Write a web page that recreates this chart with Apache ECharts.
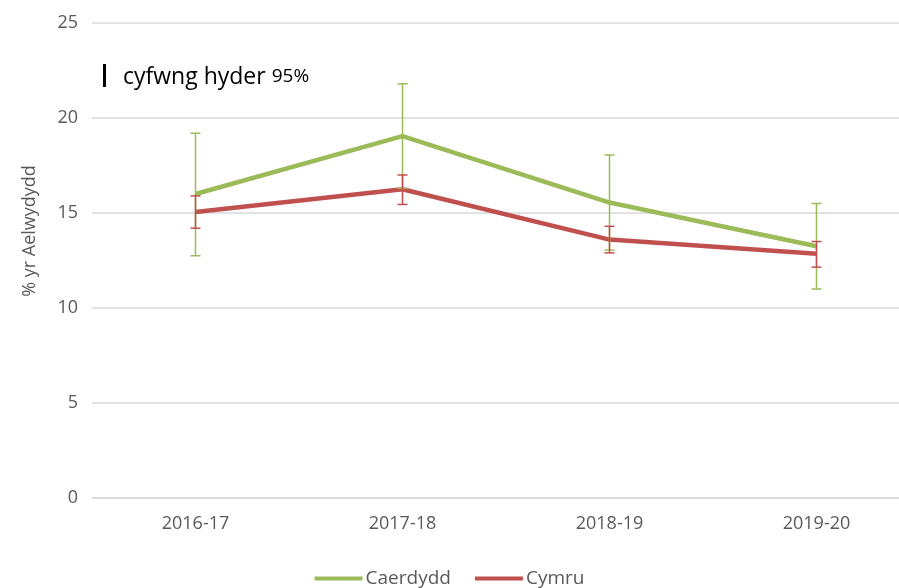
<!DOCTYPE html>
<html>
<head>
<meta charset="utf-8">
<script src="https://cdn.jsdelivr.net/npm/echarts@6/dist/echarts.min.js"></script>
<style>html,body{margin:0;padding:0;background:#fff}#c{width:899px;height:588px}</style>
</head>
<body>
<div id="c"></div>
<script>
const categories = ['2016-17', '2017-18', '2018-19', '2019-20'];
const caerdydd = [16.0, 19.05, 15.55, 13.25];
const caerdyddLow = [12.75, 16.3, 13.05, 11.0];
const caerdyddHigh = [19.2, 21.8, 18.05, 15.5];
const cymru = [15.05, 16.25, 13.6, 12.85];
const cymruLow = [14.2, 15.45, 12.9, 12.15];
const cymruHigh = [15.9, 17.0, 14.3, 13.5];
const yTicks = [0, 5, 10, 15, 20, 25];

const GREEN = '#9BBB59', RED = '#C0504D';
const FONT = "'Open Sans', 'Liberation Sans', sans-serif";

function errData(low, high) {
  return categories.map((c, i) => [i, low[i], high[i]]);
}
function errSeries(name, low, high, color) {
  return {
    type: 'custom',
    name: name + ' err',
    data: errData(low, high),
    z: 3,
    silent: true,
    renderItem: function (params, api) {
      const x = api.value(0);
      const lo = api.coord([x, api.value(1)]);
      const hi = api.coord([x, api.value(2)]);
      const w = 5;
      const st = { stroke: color, lineWidth: 1.5 };
      return {
        type: 'group',
        children: [
          { type: 'line', shape: { x1: lo[0], y1: lo[1], x2: hi[0], y2: hi[1] }, style: st },
          { type: 'line', shape: { x1: lo[0] - w, y1: lo[1], x2: lo[0] + w, y2: lo[1] }, style: st },
          { type: 'line', shape: { x1: hi[0] - w, y1: hi[1], x2: hi[0] + w, y2: hi[1] }, style: st }
        ]
      };
    }
  };
}

const chart = echarts.init(document.getElementById('c'));
chart.setOption({
  animation: false,
  backgroundColor: '#fff',
  grid: { left: 92, top: 23, width: 828, bottom: 90, containLabel: false, outerBoundsMode: 'none' },
  legend: {
    top: 564,
    left: 'center',
    itemWidth: 48,
    itemHeight: 4,
    itemGap: 24,
    icon: 'rect',
    textStyle: { color: '#595959', fontSize: 19, fontFamily: FONT, padding: [0, 0, 0, -2] },
    data: ['Caerdydd', 'Cymru']
  },
  xAxis: {
    type: 'category',
    data: categories,
    boundaryGap: true,
    axisLine: { lineStyle: { color: '#d9d9d9', width: 1.5 } },
    axisTick: { show: false },
    axisLabel: { color: '#595959', fontSize: 18, fontFamily: FONT, margin: 17 }
  },
  yAxis: {
    type: 'value',
    min: yTicks[0],
    max: yTicks[yTicks.length - 1],
    interval: 5,
    axisLine: { show: false },
    axisTick: { show: false },
    axisLabel: { color: '#595959', fontSize: 18, fontFamily: FONT, margin: 14 },
    splitLine: { lineStyle: { color: '#d9d9d9', width: 1.5 } }
  },
  graphic: [{
    type: 'text',
    x: 30,
    y: 231,
    rotation: Math.PI / 2,
    style: {
      text: '% yr Aelwydydd',
      fill: '#595959',
      fontSize: 18,
      fontFamily: FONT,
      align: 'center',
      verticalAlign: 'middle'
    }
  }, {
    type: 'rect',
    shape: { x: 103, y: 64, width: 3, height: 23 },
    style: { fill: '#000' }
  }, {
    type: 'text',
    x: 123,
    y: 77,
    style: {
      text: '{a|cyfwng hyder }{b|95%}',
      verticalAlign: 'middle',
      rich: {
        a: { fontSize: 23, fontFamily: FONT, fill: '#000' },
        b: { fontSize: 19, fontFamily: FONT, fill: '#000' }
      }
    }
  }],
  series: [
    {
      name: 'Caerdydd', type: 'line', data: caerdydd, symbol: 'none',
      lineStyle: { color: GREEN, width: 4.5 }, itemStyle: { color: GREEN }, z: 2
    },
    {
      name: 'Cymru', type: 'line', data: cymru, symbol: 'none',
      lineStyle: { color: RED, width: 4.5 }, itemStyle: { color: RED }, z: 2
    },
    errSeries('Caerdydd', caerdyddLow, caerdyddHigh, GREEN),
    errSeries('Cymru', cymruLow, cymruHigh, RED)
  ]
});
</script>
</body>
</html>
